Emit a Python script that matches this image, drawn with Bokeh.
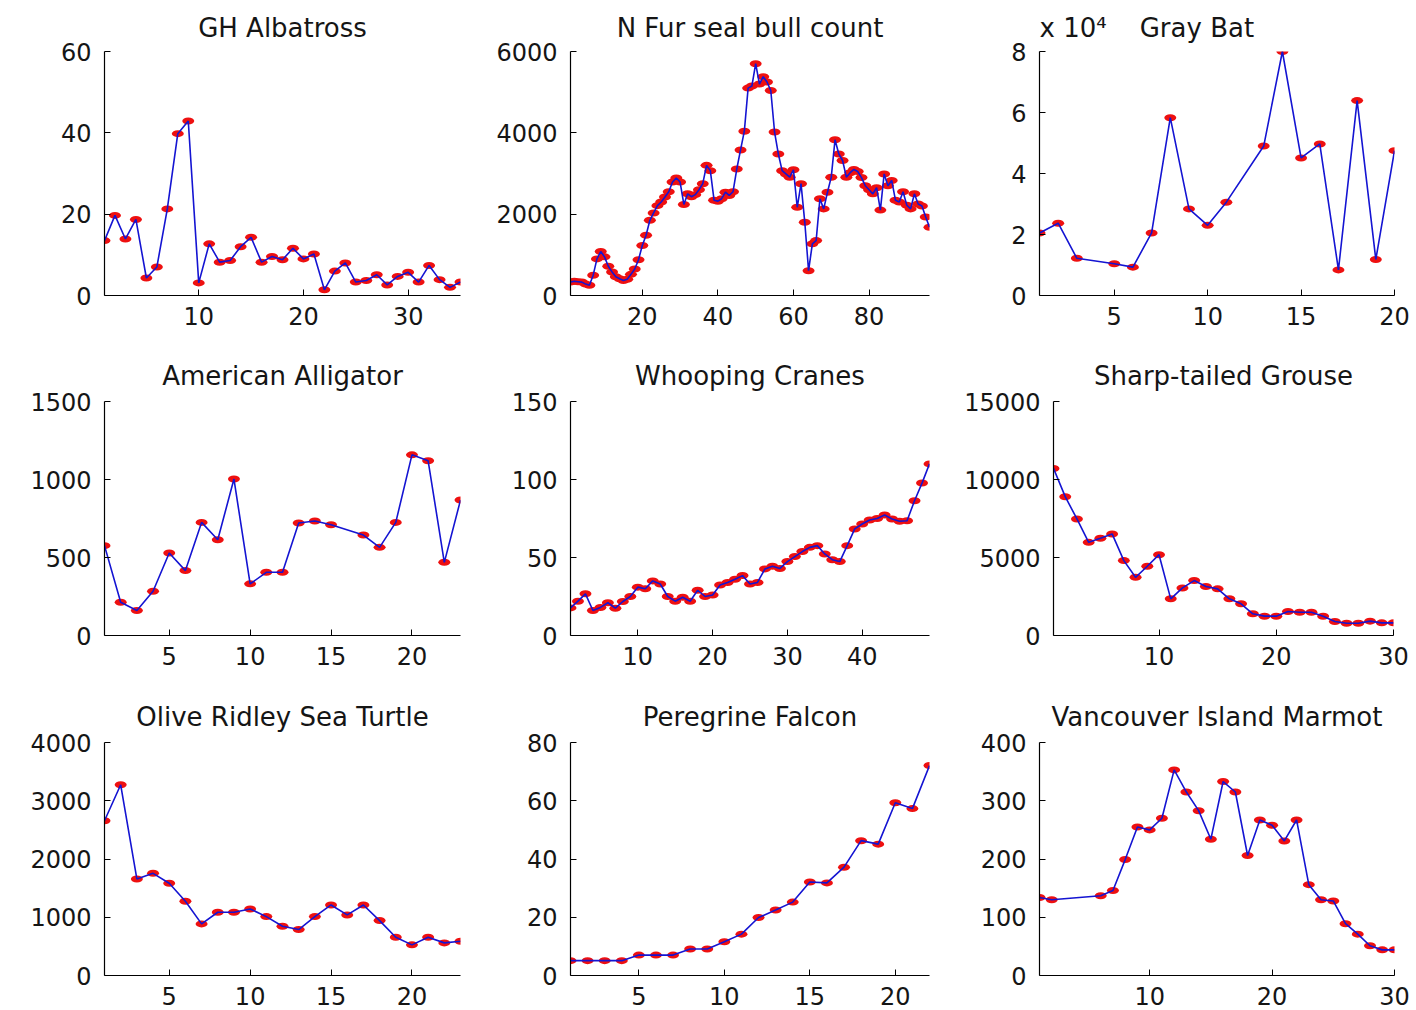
from bokeh.plotting import figure
from bokeh.layouts import column, row
from bokeh.models import Range1d, FixedTicker, CustomJSTickFormatter, ColumnDataSource
from bokeh.embed import file_html
from bokeh.resources import INLINE

# ---- population series ----
albatross_x = list(range(1, 36))
albatross_y = [13.5, 19.7, 13.9, 18.7, 4.3, 7.0, 21.3, 39.8, 42.9, 3.1,
               12.7, 8.2, 8.6, 12.0, 14.3, 8.2, 9.6, 8.8, 11.6, 9.0,
               10.2, 1.4, 6.0, 8.0, 3.3, 3.7, 5.1, 2.6, 4.7, 5.7,
               3.3, 7.4, 3.9, 2.0, 3.3]

furseal_x = list(range(1, 97))
furseal_y = [330, 350, 340, 330, 280, 250, 500, 900, 1080, 950,
             720, 580, 460, 410, 370, 400, 520, 650, 880, 1230,
             1480, 1850, 2030, 2210, 2300, 2420, 2550, 2790, 2890, 2790,
             2240, 2500, 2430, 2480, 2600, 2750, 3200, 3070, 2340, 2320,
             2380, 2540, 2460, 2550, 3110, 3580, 4040, 5100, 5150, 5700,
             5200, 5380, 5250, 5040, 4020, 3480, 3070, 2990, 2910, 3090,
             2170, 2750, 1800, 610, 1270, 1350, 2380, 2130, 2540, 2910,
             3830, 3480, 3320, 2910, 3020, 3100, 3050, 2900, 2700, 2600,
             2500, 2650, 2100, 2990, 2700, 2830, 2340, 2300, 2550, 2220,
             2130, 2500, 2250, 2200, 1930, 1680]

graybat_x = [1, 2, 3, 5, 6, 7, 8, 9, 10, 11, 13, 14, 15, 16, 17, 18, 19, 20]
graybat_y = [20500, 23700, 12200, 10400, 9300, 20500, 58300, 28400, 23000, 30600,
             49000, 80000, 45100, 49700, 8400, 63900, 11800, 47500]

alligator_x = [1, 2, 3, 4, 5, 6, 7, 8, 9, 10, 11, 12, 13, 14, 15, 17, 18, 19, 20, 21, 22, 23]
alligator_y = [576, 213, 160, 284, 529, 416, 725, 614, 1003, 331, 405, 405,
               721, 734, 710, 644, 565, 725, 1158, 1120, 469, 868]

cranes_x = list(range(1, 50))
cranes_y = [17.7, 22, 26.7, 16, 18, 21, 17.5, 21.8, 25, 31,
            30, 35, 33, 25, 22, 24.5, 22, 29, 25, 26,
            32.4, 34, 36, 38.4, 33, 34, 42.7, 44.4, 43, 47.4,
            50.6, 53.8, 56.5, 57.6, 52.3, 48.6, 47.4, 57.6, 68.3, 71.5,
            74, 75, 77.2, 74.7, 73.2, 73.6, 86.4, 97.7, 110]

grouse_x = list(range(1, 31))
grouse_y = [10710, 8900, 7470, 5970, 6230, 6510, 4800, 3730, 4440, 5180,
            2350, 3050, 3520, 3140, 2990, 2350, 2030, 1390, 1240, 1240,
            1540, 1490, 1490, 1240, 900, 790, 790, 920, 810, 810]

turtle_x = list(range(1, 24))
turtle_y = [2657, 3274, 1657, 1754, 1583, 1274, 886, 1086, 1086, 1143,
            1011, 846, 789, 1011, 1211, 1040, 1211, 943, 657, 526,
            657, 560, 589]

falcon_x = list(range(1, 23))
falcon_y = [5.1, 5.1, 5.1, 5.1, 7.0, 7.0, 7.0, 9.1, 9.1, 11.6,
            14.2, 19.9, 22.5, 25.2, 32.1, 31.8, 37.2, 46.3, 45.1, 59.3,
            57.3, 72.1]

marmot_x = [1, 2, 6, 7, 8, 9, 10, 11, 12, 13, 14, 15, 16, 17, 18, 19, 20,
            21, 22, 23, 24, 25, 26, 27, 28, 29, 30]
marmot_y = [134, 130, 137, 146, 199, 255, 250, 270, 353, 315, 283, 234, 333,
            315, 206, 267, 258, 231, 267, 156, 130, 128, 89, 71, 51, 44, 44]

titles = ["GH Albatross", "N Fur seal bull count",
          "x 10\u2074\u00a0\u00a0\u00a0\u00a0Gray Bat",
          "American Alligator", "Whooping Cranes", "Sharp-tailed Grouse",
          "Olive Ridley Sea Turtle", "Peregrine Falcon", "Vancouver Island Marmot"]

FONT = "DejaVu Sans"
TEXT = "#151515"
LINE_BLUE = "#1414d2"
MARK_RED = "#ee1010"


def panel(title, xs, ys, xmax, xticks, ymax, yticks, frame, borders,
          title_align="center", title_standoff=21):
    fw, fh = frame
    bl, br, bt, bb = borders
    p = figure(frame_width=fw, frame_height=fh,
               min_border_left=bl, min_border_right=br,
               min_border_top=bt, min_border_bottom=bb,
               x_range=Range1d(1, xmax), y_range=Range1d(0, ymax),
               output_backend="svg", toolbar_location=None, title=title)
    p.title.align = title_align
    p.title.text_font = FONT
    p.title.text_font_size = "26px"
    p.title.text_font_style = "normal"
    p.title.text_color = TEXT
    p.title.standoff = title_standoff
    p.outline_line_color = None
    p.grid.visible = False
    p.background_fill_color = "white"
    p.border_fill_color = "white"
    for ax in (p.xaxis[0], p.yaxis[0]):
        ax.axis_line_color = "black"
        ax.axis_line_width = 1.2
        ax.major_tick_in = 6
        ax.major_tick_out = 0
        ax.major_tick_line_color = "black"
        ax.minor_tick_line_color = None
        ax.major_label_text_font = FONT
        ax.major_label_text_font_size = "24px"
        ax.major_label_text_color = TEXT
    p.xaxis[0].ticker = FixedTicker(ticks=xticks)
    p.yaxis[0].ticker = FixedTicker(ticks=yticks)
    p.xaxis[0].major_label_standoff = 11
    p.yaxis[0].major_label_standoff = 13

    src = ColumnDataSource(dict(x=xs, y=ys))
    p.ellipse(x="x", y="y", width=12, height=7, width_units="screen",
              height_units="screen", fill_color=MARK_RED, line_color=None, source=src)
    p.line(x="x", y="y", line_color=LINE_BLUE, line_width=1.6, source=src)
    return p


p1 = panel(titles[0], albatross_x, albatross_y, 35, [10, 20, 30], 60, [0, 20, 40, 60],
           (356, 244), (104, 10, 51, 50), title_standoff=18)
p2 = panel(titles[1], furseal_x, furseal_y, 96, [20, 40, 60, 80], 6000, [0, 2000, 4000, 6000],
           (359, 244), (100, 11, 51, 50), title_standoff=18)
p3 = panel(titles[2], graybat_x, graybat_y, 20, [5, 10, 15, 20], 80000,
           [0, 20000, 40000, 60000, 80000], (355, 244), (99, 22, 51, 50),
           title_align="left", title_standoff=18)
# axis shows values in units of 10^4
p3.yaxis[0].formatter = CustomJSTickFormatter(code="return (tick / 1e4).toFixed(0);")

p4 = panel(titles[3], alligator_x, alligator_y, 23, [5, 10, 15, 20], 1500, [0, 500, 1000, 1500],
           (356, 234), (104, 10, 56, 50))
p5 = panel(titles[4], cranes_x, cranes_y, 49, [10, 20, 30, 40], 150, [0, 50, 100, 150],
           (359, 234), (100, 11, 56, 50))
p6 = panel(titles[5], grouse_x, grouse_y, 30, [10, 20, 30], 15000, [0, 5000, 10000, 15000],
           (340, 234), (113, 23, 56, 50))

p7 = panel(titles[6], turtle_x, turtle_y, 23, [5, 10, 15, 20], 4000, [0, 1000, 2000, 3000, 4000],
           (356, 233), (104, 10, 57, 35))
p8 = panel(titles[7], falcon_x, falcon_y, 22, [5, 10, 15, 20], 80, [0, 20, 40, 60, 80],
           (359, 233), (100, 11, 57, 35))
p9 = panel(titles[8], marmot_x, marmot_y, 30, [10, 20, 30], 400, [0, 100, 200, 300, 400],
           (355, 233), (99, 22, 57, 35))

layout = column(row(p1, p2, p3), row(p4, p5, p6), row(p7, p8, p9))

open("out.html", "w").write(file_html(layout, INLINE))
